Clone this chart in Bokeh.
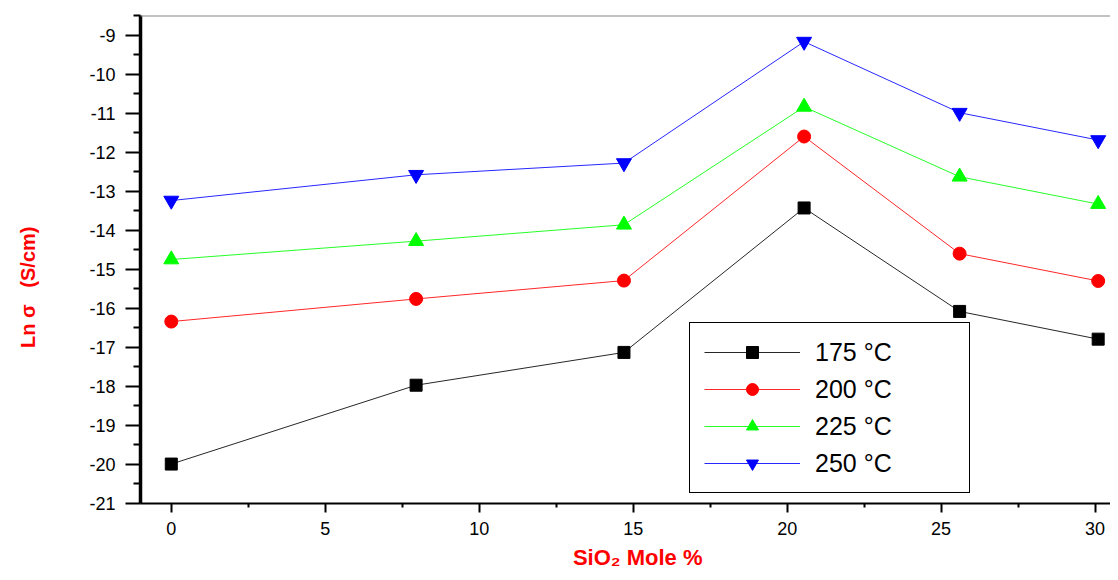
from bokeh.plotting import figure
from bokeh.models import FixedTicker, Span, Legend, LegendItem, Range1d
from bokeh.embed import file_html
from bokeh.resources import INLINE

# ---- data ----
sio2 = [0, 7.95, 14.7, 20.55, 25.6, 30.1]
s175 = [-19.99, -17.97, -17.13, -13.43, -16.08, -16.79]
s200 = [-16.34, -15.76, -15.29, -11.60, -14.60, -15.30]
s225 = [-14.75, -14.28, -13.86, -10.84, -12.63, -13.33]
s250 = [-13.24, -12.58, -12.28, -9.17, -10.99, -11.69]
labels = ["175 \u00b0C", "200 \u00b0C", "225 \u00b0C", "250 \u00b0C"]
x_ticks = [0, 5, 10, 15, 20, 25, 30]
y_ticks = list(range(-21, -8))

series = [s175, s200, s225, s250]
colors = ["#000000", "#FF0000", "#00FF00", "#0000FF"]
markers = ["square", "circle", "triangle", "inverted_triangle"]
msizes = [12, 13, 15, 15]

FONT = "Liberation Sans"
NB = "\u00a0"

p = figure(width=1110, height=572, output_backend="svg", toolbar_location=None,
           x_range=Range1d(-1.0, 30.5), y_range=Range1d(-21, -8.5),
           min_border_left=140, min_border_right=0, min_border_top=15,
           min_border_bottom=69)
p.outline_line_color = None
p.grid.visible = False
p.background_fill_color = "white"
p.border_fill_color = "white"

items = []
for ys, c, m, ms, lab in zip(series, colors, markers, msizes, labels):
    r1 = p.line(sio2, ys, line_color=c, line_width=1, line_alpha=0.85)
    r2 = p.scatter(sio2, ys, marker=m, size=ms, fill_color=c, line_color=c)
    items.append(LegendItem(label=lab, renderers=[r1, r2]))

legend = Legend(items=items, location=(549, 10))
legend.border_line_color = "black"
legend.border_line_alpha = 1.0
legend.border_line_width = 1.5
legend.background_fill_color = "white"
legend.background_fill_alpha = 1
legend.label_text_font = FONT
legend.label_text_font_size = "25px"
legend.label_text_color = "black"
legend.glyph_width = 96
legend.glyph_height = 30
legend.label_height = 30
legend.label_width = 140
legend.label_standoff = 15
legend.spacing = 7
legend.padding = 14
legend.margin = 0
p.add_layout(legend, "center")

# top frame line
p.add_layout(Span(location=-8.5, dimension="width", line_color="#888888", line_width=2))

# x axis
xa = p.xaxis[0]
xa.ticker = FixedTicker(ticks=x_ticks, minor_ticks=[2.5, 7.5, 12.5, 17.5, 22.5, 27.5])
xa.axis_line_width = 2
xa.axis_line_color = "black"
xa.major_tick_out = 9
xa.major_tick_in = 0
xa.minor_tick_out = 4
xa.minor_tick_in = 0
xa.major_tick_line_width = 2
xa.minor_tick_line_width = 2
xa.major_label_text_font = FONT
xa.major_label_text_font_size = "18px"
xa.major_label_text_color = "black"
xa.major_label_standoff = 9
xa.axis_label = NB * 4 + "SiO\u2082 Mole %"
xa.axis_label_text_font = FONT
xa.axis_label_text_font_style = "bold"
xa.axis_label_text_font_size = "22px"
xa.axis_label_text_color = "#FF0000"
xa.axis_label_standoff = 7

# y axis
ya = p.yaxis[0]
ya.ticker = FixedTicker(ticks=y_ticks, minor_ticks=[v + 0.5 for v in range(-21, -8)])
ya.major_label_overrides = {v: str(v) for v in y_ticks}
ya.axis_line_width = 3.5
ya.axis_line_color = "black"
ya.major_tick_out = 15
ya.major_tick_in = 0
ya.minor_tick_out = 7
ya.minor_tick_in = 0
ya.major_tick_line_width = 2
ya.minor_tick_line_width = 2
ya.major_label_text_font = FONT
ya.major_label_text_font_size = "18px"
ya.major_label_text_color = "black"
ya.major_label_standoff = 10
ya.axis_label = "Ln" + NB + "\u03c3" + NB * 3 + "(S/cm)" + NB * 10
ya.axis_label_text_font = FONT
ya.axis_label_text_font_style = "bold"
ya.axis_label_text_font_size = "20px"
ya.axis_label_text_color = "#FF0000"
ya.axis_label_standoff = 47

open("out.html", "w").write(file_html(p, INLINE))
